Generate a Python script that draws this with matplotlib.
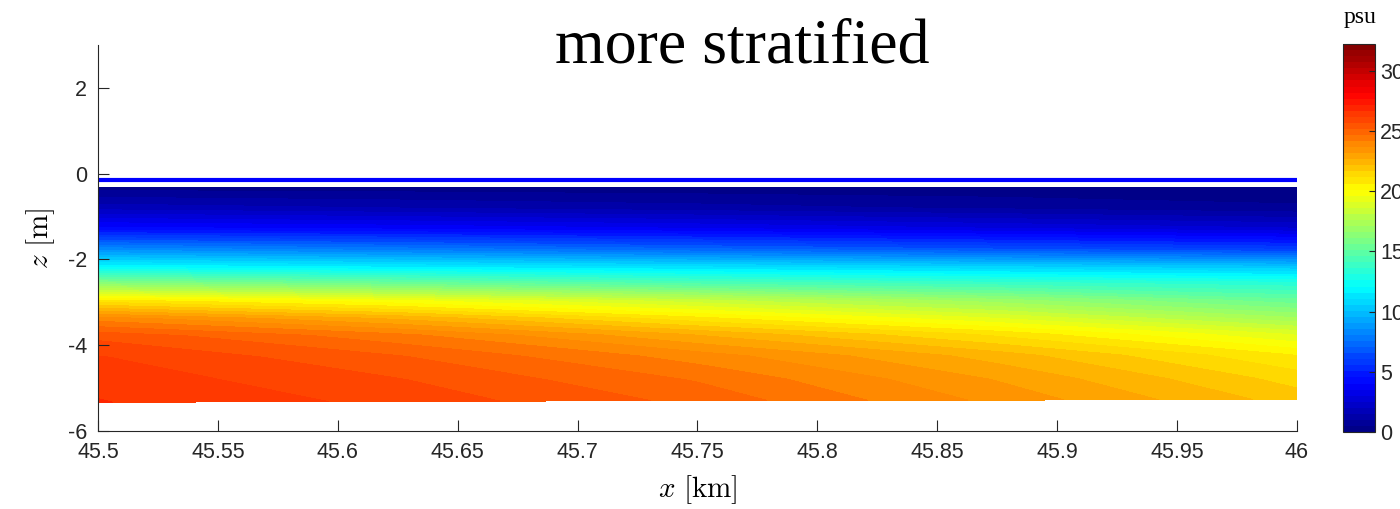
import numpy as np
import matplotlib
matplotlib.use('Agg')
from matplotlib import pyplot as plt
from matplotlib.colors import LinearSegmentedColormap

# estaciones a lo largo del canal [km]
x_km = [45.5, 45.625, 45.75, 45.875, 46.0]
# profundidad del fondo en cada estación [m]
fondo = [-5.33, -5.31, -5.29, -5.28, -5.26]
# superficie libre
eta_x = [45.5, 46.0]
eta_z = [-0.14, -0.14]
z_tope = -0.33
# niveles relativos (0 = tope, 1 = fondo)
sigma = [0.0, 0.094, 0.19, 0.29, 0.37, 0.45, 0.53, 0.61, 0.69, 0.79, 0.9, 1.0]

# salinidad [psu] por estación y nivel
sal_455 = [0.3, 1.8, 4.2, 8.5, 12.0, 16.5, 21.0, 23.9, 25.5, 26.2, 26.5, 26.7]
sal_4562 = [0.25, 1.5, 3.9, 7.9, 11.5, 15.5, 19.8, 22.5, 24.3, 25.2, 25.7, 26.0]
sal_4575 = [0.2, 1.2, 3.5, 7.2, 11.0, 14.5, 18.3, 20.7, 22.6, 23.9, 24.6, 25.0]
sal_4587 = [0.15, 0.9, 3.0, 6.6, 10.5, 13.8, 16.8, 19.0, 21.0, 22.4, 23.1, 23.5]
sal_46 = [0.1, 0.6, 2.5, 6.0, 10.0, 13.2, 15.2, 17.0, 19.0, 20.6, 21.4, 21.9]

vmax = 32.2

plt.rcParams['mathtext.fontset'] = 'cm'
plt.rcParams['axes.unicode_minus'] = False
plt.rcParams['font.family'] = ['Liberation Sans', 'DejaVu Sans']

# jet al estilo de MATLAB
jet_ml = LinearSegmentedColormap.from_list('jet_ml', [
    (0.0, (0, 0, 0.5)), (1/8, (0, 0, 1)), (3/8, (0, 1, 1)),
    (5/8, (1, 1, 0)), (7/8, (1, 0, 0)), (1.0, (0.5, 0, 0))])

S = np.array([sal_455, sal_4562, sal_4575, sal_4587, sal_46]).T
X = np.tile(np.array(x_km), (len(sigma), 1))
Z = z_tope + np.outer(sigma, np.array(fondo) - z_tope)

fig = plt.figure(figsize=(14, 5.09), dpi=100)
ax = fig.add_axes([0.07, 0.1532, 0.8564, 0.7584])

niveles = np.linspace(0, vmax, 65)
cf = ax.contourf(X, Z, S, levels=niveles, cmap=jet_ml, vmin=0, vmax=vmax)
ax.plot(eta_x, eta_z, color=(0, 0, 1), lw=3)

ax.set_xlim(45.5, 46)
ax.set_ylim(-6, 3)
ax.set_xticks(np.arange(45.5, 46.001, 0.05))
ax.set_xticklabels(['45.5', '45.55', '45.6', '45.65', '45.7', '45.75', '45.8',
                    '45.85', '45.9', '45.95', '46'])
ax.set_yticks([-6, -4, -2, 0, 2])
ax.tick_params(direction='in', length=8, width=0.8, labelsize=15.5,
               colors='0.15', pad=8)
for lado in ['top', 'right']:
    ax.spines[lado].set_visible(False)
for lado in ['left', 'bottom']:
    ax.spines[lado].set_color('0.15')
    ax.spines[lado].set_linewidth(0.8)

ax.set_xlabel(r'$x\ [\mathrm{km}]$', fontsize=21, labelpad=7)
ax.set_ylabel(r'$z\ [\mathrm{m}]$', fontsize=21, labelpad=8)
fig.text(0.530, 0.877, 'more stratified', ha='center', va='baseline',
         fontsize=46, family='Liberation Serif')

cax = fig.add_axes([0.9593, 0.1513, 0.0229, 0.762])
cb = fig.colorbar(cf, cax=cax)
cb.set_ticks([0, 5, 10, 15, 20, 25, 30])
cb.ax.tick_params(labelsize=15.5, direction='in', length=4, colors='0.15')
cb.outline.set_edgecolor('0.15')
cb.outline.set_linewidth(0.8)
fig.text(0.9714, 0.945, 'psu', ha='center', va='bottom', fontsize=17,
         family='Liberation Serif')

plt.savefig('out.png', dpi=100)
